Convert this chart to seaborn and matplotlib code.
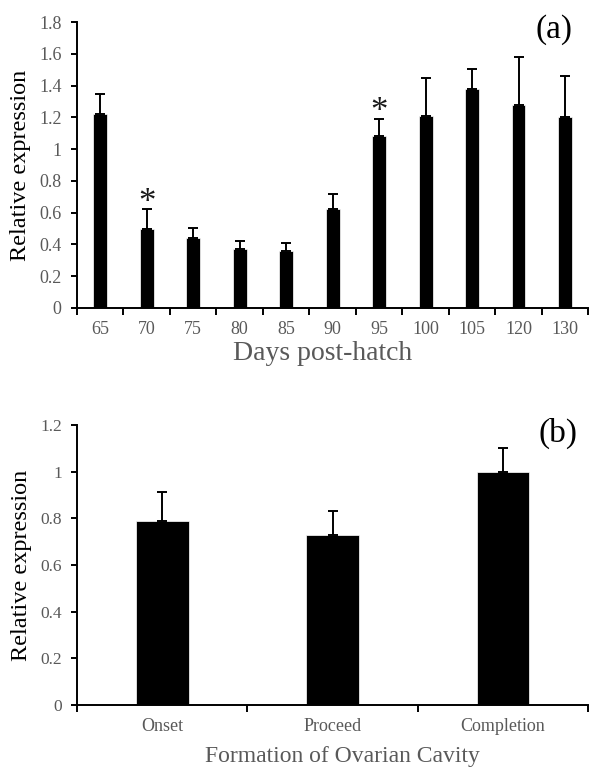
import numpy as np
import pandas as pd
import matplotlib
matplotlib.use("Agg")
import matplotlib.pyplot as plt
import seaborn as sns

# ---- data ----
days = ["65", "70", "75", "80", "85", "90", "95", "100", "105", "120", "130"]
expr_a = [1.22, 0.50, 0.44, 0.37, 0.36, 0.62, 1.08, 1.21, 1.38, 1.28, 1.20]
err_a = [0.13, 0.12, 0.065, 0.05, 0.05, 0.10, 0.11, 0.235, 0.125, 0.30, 0.26]
signif_a = ["70", "95"]

stages = ["Onset", "Proceed", "Completion"]
expr_b = [0.79, 0.73, 1.00]
err_b = [0.125, 0.10, 0.10]

sns.set_theme(style="ticks")
plt.rcParams["font.family"] = ["Liberation Serif", "DejaVu Serif"]
GREY = "#595959"

fig = plt.figure(figsize=(5.89, 7.70), dpi=100)
ax1 = fig.add_axes([0.1307, 0.600, 0.868, 0.3714])
ax2 = fig.add_axes([0.1307, 0.0844, 0.868, 0.3636])


def style_axes(ax, n, ymax, ystep, ticksize, cat_size):
    for s in ["top", "right"]:
        ax.spines[s].set_visible(False)
    for s in ["left", "bottom"]:
        ax.spines[s].set_linewidth(1.4)
        ax.spines[s].set_color("black")
    ax.set_xlim(-0.5, n - 0.5)
    ax.set_ylim(0, ymax)
    yt = np.round(np.arange(0, ymax + 1e-9, ystep), 1)
    ax.set_yticks(yt)
    ax.set_yticklabels([("%g" % v) for v in yt], color=GREY, fontsize=ticksize)
    ax.tick_params(axis="y", length=4, width=1.4, color="black", pad=7)
    ax.set_xticks(np.arange(-0.5, n, 1.0), minor=True)
    ax.tick_params(axis="x", which="minor", length=5, width=1.4, color="black")
    ax.tick_params(axis="x", which="major", length=0, pad=9, labelsize=cat_size, labelcolor=GREY)


# ---- panel (a) ----
dfa = pd.DataFrame({"day": days, "expr": expr_a})
sns.barplot(data=dfa, x="day", y="expr", order=days, color="black", width=0.3,
            edgecolor="white", linewidth=0.5, errorbar=None, ax=ax1)
xa = np.arange(len(days))
ax1.errorbar(xa, expr_a, yerr=[np.zeros(len(err_a)), err_a], fmt="none",
             ecolor="black", elinewidth=1.4, capsize=3.5, capthick=1.4)
style_axes(ax1, len(days), 1.8, 0.2, 13, 13)
ax1.set_xlabel("Days post-hatch", fontsize=20, color=GREY)
ax1.xaxis.set_label_coords(0.48, -0.117, transform=ax1.transAxes)
ax1.xaxis.label.set_va("top")
ax1.set_ylabel("Relative expression", fontsize=17.5, color="black", labelpad=6)
for d in signif_a:
    i = days.index(d)
    ax1.text(i, expr_a[i] + err_a[i] - 0.065, "*", ha="center", va="bottom",
             fontsize=25, color="#1a1a1a")
fig.text(0.94, 0.961, "(a)", fontsize=24, ha="center", va="center", color="black")

# ---- panel (b) ----
dfb = pd.DataFrame({"stage": stages, "expr": expr_b})
sns.barplot(data=dfb, x="stage", y="expr", order=stages, color="black", width=0.31,
            edgecolor="white", linewidth=0.5, errorbar=None, ax=ax2)
xb = np.arange(len(stages))
ax2.errorbar(xb, expr_b, yerr=[np.zeros(len(err_b)), err_b], fmt="none",
             ecolor="black", elinewidth=1.4, capsize=3.5, capthick=1.4)
style_axes(ax2, len(stages), 1.2, 0.2, 12.5, 13)
ax2.set_xlabel("Formation of Ovarian Cavity", fontsize=17, color=GREY)
ax2.xaxis.set_label_coords(0.52, -0.148, transform=ax2.transAxes)
ax2.xaxis.label.set_va("top")
ax2.set_ylabel("Relative expression", fontsize=17.5, color="black", labelpad=6)
fig.text(0.947, 0.4375, "(b)", fontsize=24, ha="center", va="center", color="black")

fig.savefig("out.png", dpi=100)
